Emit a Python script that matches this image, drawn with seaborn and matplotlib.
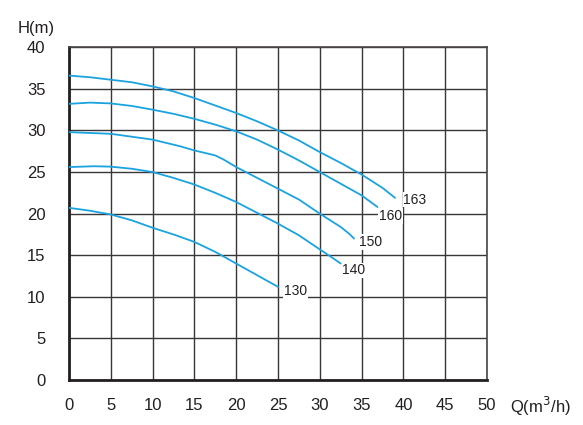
import pandas as pd
import seaborn as sns
import matplotlib.pyplot as plt

# curve data (Q in m3/h, H in m)
q_163 = [0, 2.5, 5, 7.5, 10, 12.5, 15, 17.5, 20, 22.5, 25, 27.5, 30, 32.5, 35, 37.5, 39.0]
h_163 = [36.6, 36.4, 36.1, 35.8, 35.3, 34.7, 33.9, 33.0, 32.1, 31.1, 30.0, 28.8, 27.4, 26.1, 24.7, 23.1, 21.9]

q_160 = [0, 2.5, 5, 7.5, 10, 12.5, 15, 17.5, 20, 22.5, 25, 27.5, 30, 32.5, 35, 36.9]
h_160 = [33.2, 33.35, 33.25, 32.95, 32.5, 32.0, 31.4, 30.7, 29.9, 28.9, 27.7, 26.4, 25.0, 23.6, 22.2, 20.8]

q_150 = [0, 5, 10, 13.3, 15, 17.5, 18.5, 20, 22.5, 25, 27.5, 30, 32.5, 33.5, 34.1]
h_150 = [29.8, 29.6, 28.9, 28.1, 27.6, 27.0, 26.5, 25.6, 24.3, 23.0, 21.7, 20.0, 18.4, 17.6, 17.0]

q_140 = [0, 3, 5, 7.5, 10, 12.5, 15, 17.5, 20, 22.5, 25, 27.5, 30, 31.5, 32.5]
h_140 = [25.6, 25.7, 25.65, 25.4, 25.0, 24.3, 23.5, 22.5, 21.4, 20.1, 18.8, 17.4, 15.7, 14.7, 14.0]

q_130 = [0, 2.5, 5, 7.5, 10, 12.5, 15, 17.5, 20, 22.5, 25]
h_130 = [20.7, 20.35, 19.9, 19.2, 18.3, 17.5, 16.6, 15.4, 14.0, 12.6, 11.2]

curve_labels = ['163', '160', '150', '140', '130']
label_q = [40.0, 37.1, 34.7, 32.7, 25.7]
label_h = [21.7, 19.7, 16.6, 13.2, 10.7]

x_ticks = list(range(0, 55, 5))
y_ticks = list(range(0, 45, 5))

sns.set_style("white")
plt.rcParams['font.family'] = ['Liberation Sans', 'DejaVu Sans']

fig = plt.figure(figsize=(5.83, 4.25), dpi=100)
ax = fig.add_axes([0.1184, 0.1059, 0.7169, 0.7828])

line_color = '#1aa3e0'
curves = [(q_163, h_163), (q_160, h_160), (q_150, h_150), (q_140, h_140), (q_130, h_130)]
for (q, h), name in zip(curves, curve_labels):
    df = pd.DataFrame({'Q': q, 'H': h})
    sns.lineplot(data=df, x='Q', y='H', ax=ax, color=line_color, linewidth=1.3, zorder=3)

# curve labels at the end of each line
for name, lq, lh in zip(curve_labels, label_q, label_h):
    ax.text(lq, lh, name, fontsize=10, color='#231f20', ha='left', va='center', zorder=4,
            bbox=dict(facecolor='white', edgecolor='none', pad=0.5))

ax.set_xlim(0, 50)
ax.set_ylim(0, 40)
ax.set_xticks(x_ticks)
ax.set_yticks(y_ticks)
ax.grid(True, color='#3a3536', linewidth=1.0)
ax.set_axisbelow(True)
ax.set_xlabel('')
ax.set_ylabel('')
ax.tick_params(axis='both', length=0, labelsize=12, colors='#231f20')
ax.tick_params(axis='x', pad=13)
ax.tick_params(axis='y', pad=17)

for side in ['left', 'bottom']:
    ax.spines[side].set_linewidth(2.0)
    ax.spines[side].set_color('#231f20')
for side in ['top', 'right']:
    ax.spines[side].set_linewidth(1.2)
    ax.spines[side].set_color('#4a4546')

fig.text(18 / 583, 1 - 28 / 425, 'H(m)', fontsize=12, color='#231f20', ha='left', va='center')
fig.text(510 / 583, 1 - 406 / 425, 'Q(m$^3$/h)', fontsize=12, color='#231f20', ha='left', va='center')

plt.savefig('out.png', dpi=100)
plt.close()
